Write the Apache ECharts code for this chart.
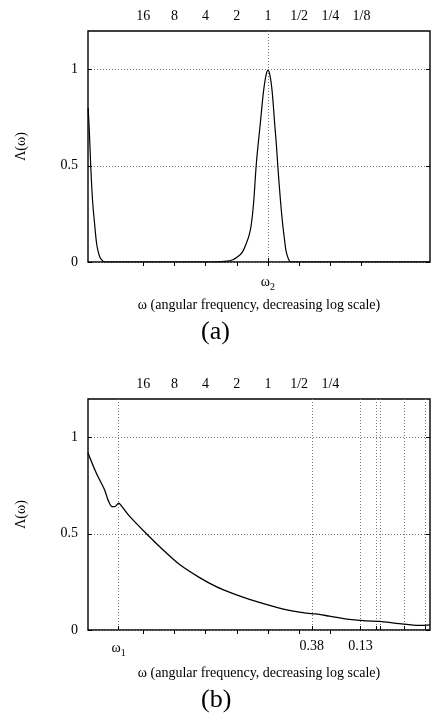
<!DOCTYPE html>
<html>
<head>
<meta charset="utf-8">
<script src="https://cdn.jsdelivr.net/npm/echarts@6/dist/echarts.min.js"></script>
<style>
  html, body { margin: 0; padding: 0; background: #fff; }
  #chart { width: 432px; height: 718px; }
</style>
</head>
<body>
<div id="chart"></div>
<script>
// panel (a): omega (decreasing log scale) vs Lambda(omega)
const omegaA = [54.4, 52.8, 51.4, 49.2, 47.0, 45.2, 43.6, 41.9, 40.4, 37.7,
  3.43, 2.63, 2.18, 1.88, 1.75, 1.61, 1.52, 1.45, 1.38, 1.30, 1.245, 1.19, 1.105, 1.045, 1.0,
  0.957, 0.911, 0.860, 0.830, 0.804, 0.758, 0.720, 0.690, 0.668, 0.630, 0.598, 0.0273]
const lambdaA = [0.80, 0.66, 0.50, 0.31, 0.19, 0.10, 0.055, 0.025, 0.012, 0.0,
  0.0, 0.003, 0.012, 0.035, 0.055, 0.10, 0.14, 0.193, 0.30, 0.50, 0.61, 0.712, 0.885, 0.97, 0.995,
  0.97, 0.885, 0.712, 0.61, 0.50, 0.32, 0.193, 0.11, 0.055, 0.012, 0.0, 0.0]

// panel (b)
const omegaB = [54.6, 45.3, 37.7, 35.0, 32.0, 30.2, 27.6, 26.0, 21.6, 14.9, 10.33,
  7.13, 4.57, 3.16, 2.2, 1.508, 0.775, 0.497, 0.378, 0.319, 0.255, 0.164, 0.113,
  0.084, 0.054, 0.0347, 0.0273]
const lambdaB = [0.92, 0.814, 0.727, 0.676, 0.641, 0.641, 0.659, 0.645, 0.59, 0.50, 0.417,
  0.34, 0.272, 0.225, 0.19, 0.159, 0.114, 0.093, 0.085, 0.081, 0.072, 0.055, 0.047,
  0.045, 0.033, 0.024, 0.027]

const omegaRange = [0.0273, 54.6]
const topTicksA = [16, 8, 4, 2, 1, 1 / 2, 1 / 4, 1 / 8]
const topLabelsA = ['16', '8', '4', '2', '1', '1/2', '1/4', '1/8']
const topTicksB = [16, 8, 4, 2, 1, 1 / 2, 1 / 4]
const topLabelsB = ['16', '8', '4', '2', '1', '1/2', '1/4']
const bottomTicksA = [1]
const bottomLabelsA = ['{w|ω}{s|2}']
const bottomTicksB = [27.6, 0.378, 0.128, 0.0905, 0.0823, 0.048, 0.0306]
const bottomLabelsB = ['{w|ω}{s|1}', '0.38', '0.13', '', '', '', '']
const yTicks = [0, 0.5, 1]
const yLabels = ['0', '0.5', '1']

const font = 'Liberation Serif'
const gridColor = '#777'

function pick(values, labels) {
  return (v) => {
    const i = values.findIndex(t => Math.abs(t / v - 1) < 1e-6 || t === v)
    return i < 0 ? '' : labels[i]
  }
}

const rich = {
  w: { fontFamily: font, fontSize: 14, color: '#000' },
  s: { fontFamily: font, fontSize: 10, color: '#000', padding: [9, 0, 0, 0] }
}

function xAxes(gridIndex, topTicks, topLabels, botTicks, botLabels, labelMargin) {
  return [{
    gridIndex: gridIndex,
    type: 'log',
    logBase: 2,
    min: omegaRange[0],
    max: omegaRange[1],
    inverse: true,
    position: 'bottom',
    axisLine: { show: false },
    axisTick: { inside: true, length: 4, customValues: botTicks, lineStyle: { color: '#000' } },
    axisLabel: {
      customValues: botTicks.filter((t, i) => botLabels[i] !== ''),
      formatter: pick(botTicks, botLabels),
      fontFamily: font, fontSize: 14, color: '#000', margin: labelMargin,
      rich: rich
    },
    splitLine: { show: true, lineStyle: { color: gridColor, type: [1, 2], width: 1 } },
    name: 'ω (angular frequency, decreasing log scale)',
    nameLocation: 'middle',
    nameGap: 36,
    nameTextStyle: { fontFamily: font, fontSize: 14, color: '#000' }
  }, {
    gridIndex: gridIndex,
    type: 'log',
    logBase: 2,
    min: omegaRange[0],
    max: omegaRange[1],
    inverse: true,
    position: 'top',
    axisLine: { show: false },
    axisTick: { inside: true, length: 4, customValues: topTicks, lineStyle: { color: '#000' } },
    axisLabel: {
      customValues: topTicks,
      formatter: pick(topTicks, topLabels),
      fontFamily: font, fontSize: 14, color: '#000', margin: 8
    },
    splitLine: { show: false }
  }]
}

function yAxes(gridIndex) {
  return [{
    gridIndex: gridIndex,
    type: 'value',
    min: 0,
    max: 1.2,
    position: 'left',
    axisLine: { show: false },
    axisTick: { inside: true, length: 4, customValues: yTicks, lineStyle: { color: '#000' } },
    axisLabel: {
      customValues: yTicks,
      formatter: pick(yTicks, yLabels),
      fontFamily: font, fontSize: 14, color: '#000', margin: 10
    },
    splitLine: { show: true, lineStyle: { color: gridColor, type: [1, 2], width: 1 } },
    name: 'Λ(ω)',
    nameLocation: 'middle',
    nameGap: 60,
    nameRotate: 90,
    nameTextStyle: { fontFamily: font, fontSize: 14, color: '#000' }
  }, {
    gridIndex: gridIndex,
    type: 'value',
    min: 0,
    max: 1.2,
    position: 'right',
    axisLine: { show: false },
    axisTick: { inside: true, length: 4, customValues: yTicks, lineStyle: { color: '#000' } },
    axisLabel: { show: false },
    splitLine: { show: false }
  }]
}

const chart = echarts.init(document.getElementById('chart'), null, { renderer: 'canvas' })
chart.setOption({
  animation: false,
  backgroundColor: '#fff',
  grid: [
    { left: 88, top: 31, width: 342, height: 231, show: true, borderColor: '#000', borderWidth: 1.4 },
    { left: 88, top: 399, width: 342, height: 231, show: true, borderColor: '#000', borderWidth: 1.4 }
  ],
  xAxis: [
    ...xAxes(0, topTicksA, topLabelsA, bottomTicksA, bottomLabelsA, 11),
    ...xAxes(1, topTicksB, topLabelsB, bottomTicksB, bottomLabelsB, 9)
  ],
  yAxis: [...yAxes(0), ...yAxes(1)],
  graphic: [
    { type: 'text', left: 201, top: 319, style: { text: '(a)', font: '26px "Liberation Serif"', fill: '#000' } },
    { type: 'text', left: 201, top: 687, style: { text: '(b)', font: '26px "Liberation Serif"', fill: '#000' } }
  ],
  series: [{
    type: 'line',
    xAxisIndex: 0,
    yAxisIndex: 0,
    data: omegaA.map((w, i) => [w, lambdaA[i]]),
    showSymbol: false,
    smooth: 0.35,
    lineStyle: { color: '#000', width: 1.2 },
    clip: true
  }, {
    type: 'line',
    xAxisIndex: 2,
    yAxisIndex: 2,
    data: omegaB.map((w, i) => [w, lambdaB[i]]),
    showSymbol: false,
    smooth: 0.3,
    lineStyle: { color: '#000', width: 1.3 },
    clip: true
  }]
})
</script>
</body>
</html>
